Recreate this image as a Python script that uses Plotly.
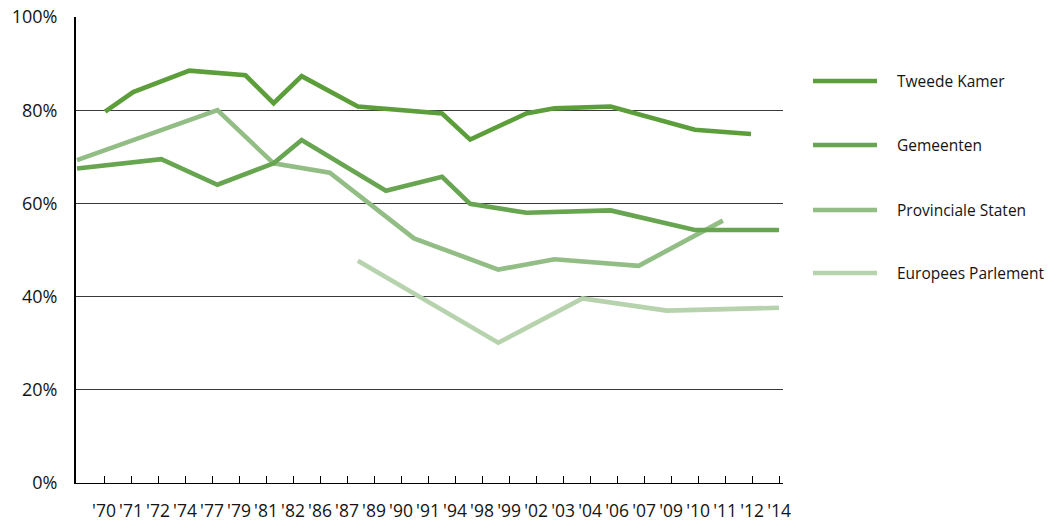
import plotly.graph_objects as go

# Election year labels along the x axis
year_labels = ["'70", "'71", "'72", "'74", "'77", "'79", "'81", "'82", "'86", "'87",
               "'89", "'90", "'91", "'94", "'98", "'99", "'02", "'03", "'04", "'06",
               "'07", "'09", "'10", "'11", "'12", "'14"]

# Turnout per election type (percent)
tk_years = ["'71", "'72", "'77", "'81", "'82", "'86", "'89", "'94", "'98", "'02", "'03", "'06", "'10", "'12"]
tk_values = [79.7, 83.9, 88.5, 87.5, 81.5, 87.3, 80.8, 79.3, 73.7, 79.3, 80.4, 80.8, 75.8, 74.9]

gem_years = ["'70", "'74", "'79", "'82", "'86", "'90", "'94", "'98", "'02", "'06", "'10", "'14"]
gem_values = [67.5, 69.5, 64.0, 68.6, 73.6, 62.7, 65.7, 59.9, 58.0, 58.5, 54.3, 54.3]

ps_years = ["'70", "'74", "'79", "'82", "'87", "'91", "'99", "'03", "'07", "'11"]
ps_values = [69.3, 75.6, 80.0, 68.6, 66.6, 52.5, 45.8, 48.0, 46.6, 56.3]

ep_years = ["'89", "'99", "'04", "'09", "'14"]
ep_values = [47.7, 30.1, 39.6, 37.0, 37.6]

series_names = ["Tweede Kamer", "Gemeenten", "Provinciale Staten", "Europees Parlement"]
series_years = [tk_years, gem_years, ps_years, ep_years]
series_values = [tk_values, gem_values, ps_values, ep_values]
series_colors = ["#5b9e3a", "#68a550", "#92bd84", "#b7d3ad"]

y_ticks = [0, 20, 40, 60, 80, 100]

FONT = "Open Sans"
TEXT_COLOR = "#141414"

fig = go.Figure()

# Draw lighter series first so darker lines sit on top
for name, yrs, vals, col in reversed(list(zip(series_names, series_years, series_values, series_colors))):
    fig.add_trace(go.Scatter(
        x=[year_labels.index(y) for y in yrs],
        y=vals,
        mode="lines",
        name=name,
        line=dict(color=col, width=4.6),
        showlegend=False,
        hoverinfo="skip",
    ))

n = len(year_labels)
last = n - 1
tick_positions = [last * (k + 1) / n for k in range(n)]

fig.update_layout(
    width=1056,
    height=522,
    margin=dict(l=76, r=273, t=17, b=39),
    paper_bgcolor="white",
    plot_bgcolor="white",
    font=dict(family=FONT, color=TEXT_COLOR, size=16),
    xaxis=dict(
        range=[-0.036, last + 0.14],
        tickmode="array",
        tickvals=tick_positions,
        ticktext=year_labels,
        ticks="inside",
        ticklen=7,
        tickwidth=1,
        tickcolor="black",
        showline=True,
        linecolor="black",
        linewidth=1,
        showgrid=False,
        zeroline=False,
        automargin=False,
        ticklabelstandoff=12,
        tickfont=dict(size=17.5, family=FONT, color=TEXT_COLOR),
    ),
    yaxis=dict(
        range=[0, 100],
        tickmode="array",
        tickvals=y_ticks,
        ticktext=[f"{v}%" for v in y_ticks],
        showgrid=True,
        gridcolor="#3a3a3a",
        gridwidth=1,
        showline=True,
        linecolor="black",
        linewidth=2,
        zeroline=False,
        ticks="",
        automargin=False,
        ticklabelstandoff=13,
        tickfont=dict(size=18, family=FONT, color=TEXT_COLOR),
    ),
)

# Legend: line swatch and label per series, placed to the right of the plot
plot_w = 1056 - 76 - 273
plot_h = 522 - 17 - 39
legend_rows_px = [81, 145, 210, 273]
for name, col, py in zip(series_names, series_colors, legend_rows_px):
    yp = (522 - 39 - py) / plot_h
    fig.add_shape(
        type="line", xref="paper", yref="paper",
        x0=(813 - 76) / plot_w, x1=(877 - 76) / plot_w, y0=yp, y1=yp,
        line=dict(color=col, width=4.6),
    )
    fig.add_annotation(
        xref="paper", yref="paper", x=(895 - 76) / plot_w, y=yp,
        text=name, showarrow=False, xanchor="left", yanchor="middle",
        font=dict(size=15.5, family=FONT, color=TEXT_COLOR),
    )

fig.write_html("out.html")
